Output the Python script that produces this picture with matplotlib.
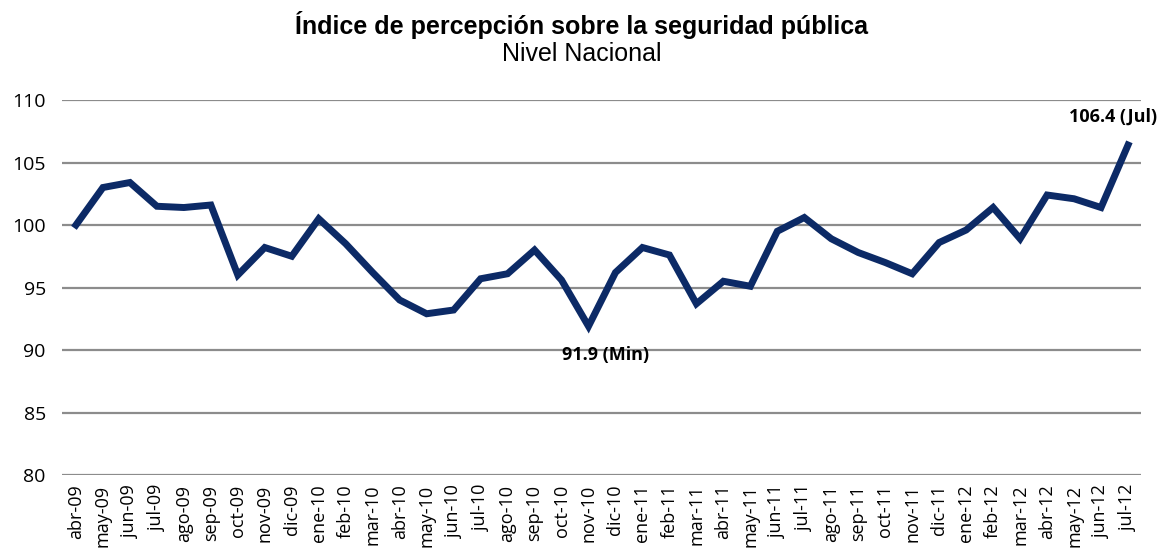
import matplotlib.pyplot as plt
import numpy as np

# Meses (abr-09 a jul-12) y valores del indice
meses = ['abr-09', 'may-09', 'jun-09', 'jul-09', 'ago-09', 'sep-09', 'oct-09', 'nov-09',
         'dic-09', 'ene-10', 'feb-10', 'mar-10', 'abr-10', 'may-10', 'jun-10', 'jul-10',
         'ago-10', 'sep-10', 'oct-10', 'nov-10', 'dic-10', 'ene-11', 'feb-11', 'mar-11',
         'abr-11', 'may-11', 'jun-11', 'jul-11', 'ago-11', 'sep-11', 'oct-11', 'nov-11',
         'dic-11', 'ene-12', 'feb-12', 'mar-12', 'abr-12', 'may-12', 'jun-12', 'jul-12']
indice = [100.0, 103.0, 103.4, 101.5, 101.4, 101.6, 96.0, 98.2,
          97.5, 100.5, 98.5, 96.2, 94.0, 92.9, 93.2, 95.7,
          96.1, 98.0, 95.6, 91.9, 96.2, 98.2, 97.6, 93.7,
          95.5, 95.1, 99.5, 100.6, 98.9, 97.8, 97.0, 96.1,
          98.6, 99.6, 101.4, 98.9, 102.4, 102.1, 101.4, 106.4]
yticks = [80, 85, 90, 95, 100, 105, 110]

navy = '#0c2a66'
grid_c = '#8c8c8c'

fig = plt.figure(figsize=(11.59, 5.52), dpi=100)
ax = fig.add_axes([0.0539, 0.1395, 0.931, 0.6793])

x = np.arange(len(meses))
ax.plot(x, indice, color=navy, linewidth=5, solid_joinstyle='miter', zorder=3)

ax.set_xlim(-0.5, len(meses) - 0.5)
ax.set_ylim(80, 110)
ax.set_yticks(yticks)
ax.set_yticklabels([str(v) for v in yticks], fontsize=14, family='Open Sans')
ax.set_xticks(x)
ax.set_xticklabels(meses, rotation=90, fontsize=13, family='Open Sans')
ax.tick_params(axis='y', length=0, pad=12)
ax.tick_params(axis='x', length=0, pad=7)
ax.yaxis.grid(True, color=grid_c, linewidth=1.6)
ax.set_axisbelow(True)
for s in ax.spines.values():
    s.set_visible(False)

# etiquetas de minimo y ultimo dato
imin = int(np.argmin(indice))
ax.annotate('%.1f (Min)' % indice[imin], xy=(x[imin], indice[imin]),
            xytext=(17, -29), textcoords='offset pixels', ha='center', va='center',
            fontsize=13, fontweight='bold', family='Open Sans')
ax.annotate('%.1f (Jul)' % indice[-1], xy=(x[-1], indice[-1]),
            xytext=(-15, 28), textcoords='offset pixels', ha='center', va='center',
            fontsize=13, fontweight='bold', family='Open Sans', annotation_clip=False)

fig.text(0.502, 0.955, 'Índice de percepción sobre la seguridad pública', ha='center', va='center',
         fontsize=18, fontweight='bold', family='Liberation Sans')
fig.text(0.502, 0.903, 'Nivel Nacional', ha='center', va='center',
         fontsize=18, family='Liberation Sans')

fig.savefig('out.png', dpi=100)
